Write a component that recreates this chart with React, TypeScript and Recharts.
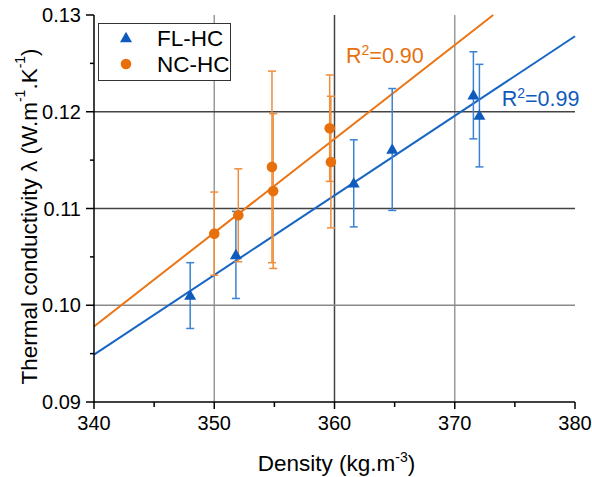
import {
  ComposedChart,
  Scatter,
  Line,
  XAxis,
  YAxis,
  ErrorBar,
  ReferenceLine,
  ReferenceDot,
  Legend,
} from "recharts";

const FONT = '"Liberation Sans", Arial, Helvetica, sans-serif';
const BLUE = "#0f5bbd";
const BLUE_LINE = "#1766c4";
const BLUE_ERR = "#3b82d4";
const ORANGE = "#e8700c";
const ORANGE_LINE = "#eb7414";
const ORANGE_ERR = "#ef8d3a";

// FL-HC samples
const flDensity = [348.0, 351.8, 361.6, 364.8, 371.55, 372.05];
const flLambda = [0.101, 0.1052, 0.1126, 0.1161, 0.1217, 0.1196];
const flError = [0.0034, 0.0045, 0.0045, 0.0063, 0.0045, 0.0053];

// NC-HC samples
const ncDensity = [350.0, 352.0, 354.8, 354.9, 359.6, 359.7];
const ncLambda = [0.1074, 0.1093, 0.1143, 0.1118, 0.1183, 0.1148];
const ncError = [0.0043, 0.0048, 0.0099, 0.008, 0.0055, 0.0068];

// linear fits (end points)
const flFitDensity = [340, 380];
const flFitLambda = [0.0949, 0.1278];
const ncFitDensity = [340, 373.2];
const ncFitLambda = [0.0978, 0.13];

const flR2 = "0.99";
const ncR2 = "0.90";

const xMajor = [340, 350, 360, 370, 380];
const xMinor = [345, 355, 365, 375];
const yMajor = [0.09, 0.1, 0.11, 0.12, 0.13];
const yMinor = [0.095, 0.105, 0.115, 0.125];

const xGridDark = [360];
const xGridLight = [350, 370];
const yGridDark = [0.11, 0.12];
const yGridLight = [0.1];

const flData = flDensity.map((x, i) => ({ x, y: flLambda[i], err: flError[i] }));
const ncData = ncDensity.map((x, i) => ({ x, y: ncLambda[i], err: ncError[i] }));
const flFit = flFitDensity.map((x, i) => ({ x, y: flFitLambda[i] }));
const ncFit = ncFitDensity.map((x, i) => ({ x, y: ncFitLambda[i] }));

const isIn = (list: number[], v: number) => list.some((t) => Math.abs(t - v) < 1e-9);

const triPath = (cx: number, cy: number) =>
  `M${cx},${cy - 6.2}L${cx + 6},${cy + 4.2}L${cx - 6},${cy + 4.2}Z`;

const Triangle = (props: any) => <path d={triPath(props.cx, props.cy)} fill={BLUE} />;
const Dot = (props: any) => <circle cx={props.cx} cy={props.cy} r={5.3} fill={ORANGE} />;

function BottomTick({ x, y, payload }: any) {
  const major = isIn(xMajor, payload.value);
  return (
    <g>
      <line x1={x} x2={x} y1={y} y2={y + (major ? 7 : 5)} stroke="#000" strokeWidth={1.5} />
      {major && (
        <text x={x} y={y + 28} textAnchor="middle" fontSize={20} fontFamily={FONT} fill="#000">
          {payload.value}
        </text>
      )}
    </g>
  );
}

function LeftTick({ x, y, payload }: any) {
  const major = isIn(yMajor, payload.value);
  return (
    <g>
      <line x1={x - (major ? 8 : 4)} x2={x} y1={y} y2={y} stroke="#000" strokeWidth={1.5} />
      {major && (
        <text x={x - 13} y={y} dy="0.35em" textAnchor="end" fontSize={20} fontFamily={FONT} fill="#000">
          {payload.value.toFixed(2)}
        </text>
      )}
    </g>
  );
}

function TopTick({ x, y }: any) {
  return <line x1={x} x2={x} y1={y - 4} y2={y} stroke="#000" strokeWidth={1.5} />;
}

function RightTick({ x, y }: any) {
  return <line x1={x - 5} x2={x} y1={y} y2={y} stroke="#000" strokeWidth={1.5} />;
}

function XTitle(props: any) {
  const vb = props.viewBox;
  return (
    <text x={vb.x + vb.width / 2 + 2} y={vb.y + 69} textAnchor="middle" fontSize={22.5} fontFamily={FONT} fill="#000">
      Density (kg.m<tspan dy={-9} fontSize={14}>-3</tspan>
      <tspan dy={9}>)</tspan>
    </text>
  );
}

function YTitle(props: any) {
  const vb = props.viewBox;
  const cx = vb.x + 5;
  const cy = vb.y + vb.height / 2 + 8;
  return (
    <text
      x={cx}
      y={cy}
      transform={`rotate(-90 ${cx} ${cy})`}
      textAnchor="middle"
      dominantBaseline="central"
      fontSize={22.5}
      fontFamily={FONT}
      fill="#000"
    >
      Thermal conductivity λ (W.m<tspan dy={-9} fontSize={14}>-1</tspan>
      <tspan dy={9}>.K</tspan>
      <tspan dy={-9} fontSize={14}>-1</tspan>
      <tspan dy={9}>)</tspan>
    </text>
  );
}

const r2Label = (value: string, color: string) => (props: any) => {
  const vb = props.viewBox;
  return (
    <text x={vb.x} y={vb.y} fontSize={21.5} fontFamily={FONT} fill={color}>
      R<tspan dy={-8} fontSize={14}>2</tspan>
      <tspan dy={8}>={value}</tspan>
    </text>
  );
};

function LegendBox() {
  return (
    <svg width={133} height={58} style={{ display: "block" }}>
      <rect x={0.5} y={0.5} width={132} height={57} fill="#fff" stroke="#333" />
      <path d={triPath(28, 15)} fill={BLUE} />
      <text x={59} y={15} dy="0.35em" fontSize={22.5} fontFamily={FONT} fill="#000">
        FL-HC
      </text>
      <circle cx={28} cy={41} r={5.3} fill={ORANGE} />
      <text x={59} y={41} dy="0.35em" fontSize={22.5} fontFamily={FONT} fill="#000">
        NC-HC
      </text>
    </svg>
  );
}

export default function App() {
  const axisLine = { stroke: "#000", strokeWidth: 1.5 };
  return (
    <div style={{ position: "absolute", left: 0, top: 0, background: "#fff" }}>
      <ComposedChart width={592} height={477} margin={{ top: 15, right: 17, bottom: 0, left: 24 }}>
        <XAxis
          dataKey="x"
          type="number"
          domain={[340, 380]}
          ticks={[...xMajor, ...xMinor].sort((a, b) => a - b)}
          interval={0}
          height={75}
          tickSize={0}
          tickMargin={0}
          tickLine={false}
          axisLine={axisLine}
          tick={<BottomTick />}
          label={{ content: XTitle }}
        />
        <XAxis
          xAxisId="top"
          orientation="top"
          dataKey="x"
          type="number"
          domain={[340, 380]}
          ticks={xMinor}
          interval={0}
          height={0}
          tickSize={0}
          tickMargin={0}
          tickLine={false}
          axisLine={axisLine}
          tick={<TopTick />}
        />
        <YAxis
          dataKey="y"
          type="number"
          domain={[0.09, 0.13]}
          ticks={[...yMajor, ...yMinor].sort((a, b) => a - b)}
          interval={0}
          width={70}
          tickSize={0}
          tickMargin={0}
          tickLine={false}
          axisLine={axisLine}
          tick={<LeftTick />}
          label={{ content: YTitle }}
        />
        <YAxis
          yAxisId="right"
          orientation="right"
          dataKey="y"
          type="number"
          domain={[0.09, 0.13]}
          ticks={[...yMinor, 0.12]}
          interval={0}
          width={0}
          tickSize={0}
          tickMargin={0}
          tickLine={false}
          axisLine={axisLine}
          tick={<RightTick />}
        />

        {xGridLight.map((v) => (
          <ReferenceLine key={`xl${v}`} x={v} stroke="#9a9a9a" strokeWidth={1.5} />
        ))}
        {xGridDark.map((v) => (
          <ReferenceLine key={`xd${v}`} x={v} stroke="#444" strokeWidth={1.5} />
        ))}
        {yGridLight.map((v) => (
          <ReferenceLine key={`yl${v}`} y={v} stroke="#8a8a8a" strokeWidth={1.5} />
        ))}
        {yGridDark.map((v) => (
          <ReferenceLine key={`yd${v}`} y={v} stroke="#444" strokeWidth={1.5} />
        ))}

        <Line
          data={flFit}
          dataKey="y"
          type="linear"
          stroke={BLUE_LINE}
          strokeWidth={2}
          dot={false}
          activeDot={false}
          isAnimationActive={false}
          legendType="none"
        />
        <Line
          data={ncFit}
          dataKey="y"
          type="linear"
          stroke={ORANGE_LINE}
          strokeWidth={2}
          dot={false}
          activeDot={false}
          isAnimationActive={false}
          legendType="none"
        />

        <Scatter name="FL-HC" data={flData} dataKey="y" shape={Triangle} isAnimationActive={false}>
          <ErrorBar dataKey="err" direction="y" width={4} stroke={BLUE_ERR} strokeWidth={1.5} isAnimationActive={false} />
        </Scatter>
        <Scatter name="NC-HC" data={ncData} dataKey="y" shape={Dot} isAnimationActive={false}>
          <ErrorBar dataKey="err" direction="y" width={4} stroke={ORANGE_ERR} strokeWidth={1.5} isAnimationActive={false} />
        </Scatter>

        <ReferenceDot x={360.96} y={0.125} r={0} fill="none" stroke="none" label={{ content: r2Label(ncR2, ORANGE) }} />
        <ReferenceDot x={373.9} y={0.1206} r={0} fill="none" stroke="none" label={{ content: r2Label(flR2, BLUE) }} />

        <Legend
          layout="vertical"
          align="center"
          verticalAlign="middle"
          content={() => <LegendBox />}
          wrapperStyle={{ left: 98, top: 23, width: 133, height: 58, margin: 0 }}
        />
      </ComposedChart>
    </div>
  );
}
